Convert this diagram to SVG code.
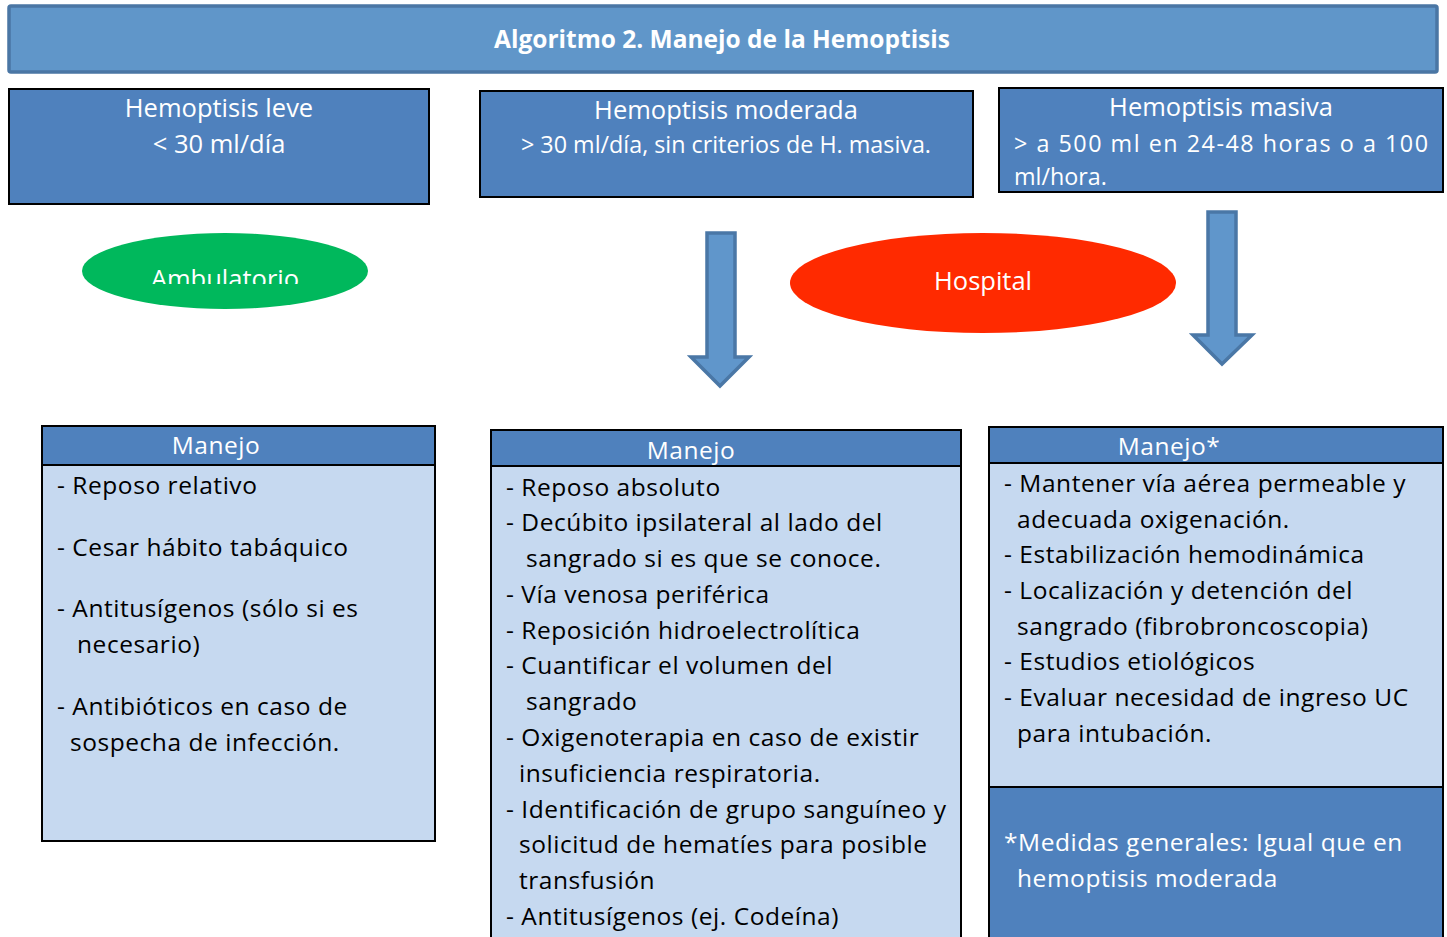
<svg xmlns="http://www.w3.org/2000/svg" width="1447" height="937" viewBox="0 0 1447 937">
<defs>
<style>
text{font-family:"Open Sans","Noto Sans","Liberation Sans",sans-serif}
.w{fill:#fff}
.k{fill:#000;font-size:24.5px;letter-spacing:0.55px}
.m{font-size:24.5px;letter-spacing:0.55px}
.hd{fill:#4f81bd;stroke:#000;stroke-width:2}
.bd{fill:#c6d9f0;stroke:#000;stroke-width:2}
.top{fill:#4f81bd;stroke:#000;stroke-width:2}
.arr{fill:#6096cb;stroke:#4a77a6;stroke-width:3.5;stroke-linejoin:miter}
.h1{font-size:25.5px}
.h2{font-size:23.3px}
</style>
<clipPath id="clipAmb"><rect x="80" y="230" width="300" height="54"/></clipPath>
</defs>
<g id="title">
<rect x="9" y="6" width="1428" height="66" fill="#6096c9" stroke="#4a76a4" stroke-width="3.5" rx="2"/>
<text x="722" y="48" text-anchor="middle" class="w" font-size="24.5" font-weight="bold">Algoritmo 2. Manejo de la Hemoptisis</text>
</g>
<g id="leve">
<rect x="9" y="89" width="420" height="115" class="top"/>
<text x="219" y="117" text-anchor="middle" class="w h1">Hemoptisis leve</text>
<text x="219" y="153" text-anchor="middle" class="w h1">&lt; 30 ml/día</text>
</g>
<g id="moderada">
<rect x="480" y="91" width="493" height="106" class="top"/>
<text x="726" y="119" text-anchor="middle" class="w h1">Hemoptisis moderada</text>
<text x="726" y="153" text-anchor="middle" class="w h2">&gt; 30 ml/día, sin criterios de H. masiva.</text>
</g>
<g id="masiva">
<rect x="999" y="88" width="444" height="104" class="top"/>
<text x="1221" y="116" text-anchor="middle" class="w h1">Hemoptisis masiva</text>
<text x="1014" y="152" class="w h2" textLength="414" lengthAdjust="spacing">&gt; a 500 ml en 24-48 horas o a 100</text>
<text x="1014" y="185" class="w h2">ml/hora.</text>
</g>
<g id="ambulatorio">
<ellipse cx="225" cy="271" rx="143" ry="38" fill="#00b85c"/>
<text x="225" y="288" text-anchor="middle" class="w" font-size="25.5" clip-path="url(#clipAmb)">Ambulatorio</text>
</g>
<g id="hospital">
<ellipse cx="983" cy="283" rx="193" ry="50" fill="#ff2a00"/>
<text x="983" y="290" text-anchor="middle" class="w" font-size="25.5">Hospital</text>
</g>
<g id="connectors">
<path class="arr" d="M707 233 H735 V357 H749 L720 386 L691 357 H707 Z"/>
<path class="arr" d="M1208 212 H1236 V335 H1252 L1222 364 L1193 335 H1208 Z"/>
</g>
<g id="manejo1">
<rect x="42" y="465" width="393" height="376" class="bd"/>
<rect x="42" y="426" width="393" height="39" class="hd"/>
<text x="216" y="454" text-anchor="middle" class="w m">Manejo</text>
<text x="57" y="494" class="k">- Reposo relativo</text>
<text x="57" y="556" class="k">- Cesar hábito tabáquico</text>
<text x="57" y="617" class="k">- Antitusígenos (sólo si es</text>
<text x="77" y="653" class="k">necesario)</text>
<text x="57" y="715" class="k">- Antibióticos en caso de</text>
<text x="70" y="751" class="k">sospecha de infección.</text>
</g>
<g id="manejo2">
<rect x="491" y="466" width="470" height="475" class="bd"/>
<rect x="491" y="430" width="470" height="36" class="hd"/>
<text x="691" y="459" text-anchor="middle" class="w m">Manejo</text>
<text x="506" y="496" class="k">- Reposo absoluto</text>
<text x="506" y="531" class="k">- Decúbito ipsilateral al lado del</text>
<text x="526" y="567" class="k">sangrado si es que se conoce.</text>
<text x="506" y="603" class="k">- Vía venosa periférica</text>
<text x="506" y="639" class="k">- Reposición hidroelectrolítica</text>
<text x="506" y="674" class="k">- Cuantificar el volumen del</text>
<text x="526" y="710" class="k">sangrado</text>
<text x="506" y="746" class="k">- Oxigenoterapia en caso de existir</text>
<text x="519" y="782" class="k">insuficiencia respiratoria.</text>
<text x="506" y="818" class="k">- Identificación de grupo sanguíneo y</text>
<text x="519" y="853" class="k">solicitud de hematíes para posible</text>
<text x="519" y="889" class="k">transfusión</text>
<text x="506" y="925" class="k">- Antitusígenos (ej. Codeína)</text>
</g>
<g id="manejo3">
<rect x="989" y="463" width="454" height="324" class="bd"/>
<rect x="989" y="427" width="454" height="36" class="hd"/>
<text x="1169" y="455" text-anchor="middle" class="w m">Manejo*</text>
<text x="1004" y="492" class="k">- Mantener vía aérea permeable y</text>
<text x="1017" y="528" class="k">adecuada oxigenación.</text>
<text x="1004" y="563" class="k">- Estabilización hemodinámica</text>
<text x="1004" y="599" class="k">- Localización y detención del</text>
<text x="1017" y="635" class="k">sangrado (fibrobroncoscopia)</text>
<text x="1004" y="670" class="k">- Estudios etiológicos</text>
<text x="1004" y="706" class="k">- Evaluar necesidad de ingreso UC</text>
<text x="1017" y="742" class="k">para intubación.</text>
</g>
<g id="medidas">
<rect x="989" y="787" width="454" height="154" class="hd"/>
<text x="1004" y="851" class="w m">*Medidas generales: Igual que en</text>
<text x="1017" y="887" class="w m">hemoptisis moderada</text>
</g>
</svg>
